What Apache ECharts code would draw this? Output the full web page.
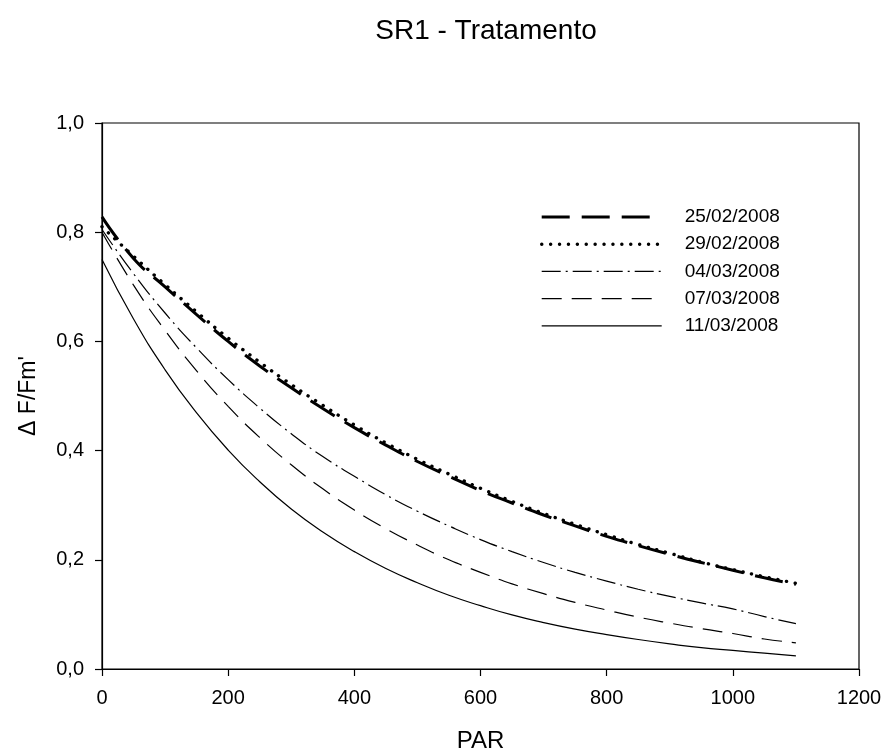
<!DOCTYPE html>
<html>
<head>
<meta charset="utf-8">
<script src="https://cdn.jsdelivr.net/npm/echarts@6/dist/echarts.min.js"></script>
<style>
  html, body { margin: 0; padding: 0; background: #fff; }
  #chart { width: 885px; height: 753px; }
</style>
</head>
<body>
<div id="chart"></div>
<script>
// PAR sample points (µmol m-2 s-1)
const par = [0, 50, 100, 150, 200, 250, 300, 350, 400, 450, 500, 550,
             600, 650, 700, 750, 800, 850, 900, 950, 1000, 1050, 1100];

// Effective quantum yield ΔF/Fm' per sampling date
const d250208 = [0.828, 0.752, 0.700, 0.649, 0.600, 0.555, 0.515, 0.477, 0.442, 0.410, 0.380, 0.353,
                 0.327, 0.304, 0.282, 0.262, 0.243, 0.226, 0.210, 0.195, 0.181, 0.167, 0.155];
const d290208 = [0.810, 0.756, 0.704, 0.654, 0.606, 0.562, 0.521, 0.483, 0.447, 0.414, 0.384, 0.357,
                 0.331, 0.307, 0.285, 0.265, 0.246, 0.228, 0.212, 0.196, 0.182, 0.169, 0.157];
const d040308 = [0.805, 0.724, 0.652, 0.588, 0.530, 0.478, 0.431, 0.389, 0.353, 0.319, 0.289, 0.262,
                 0.237, 0.215, 0.195, 0.177, 0.161, 0.146, 0.133, 0.121, 0.110, 0.096, 0.083];
const d070308 = [0.800, 0.703, 0.620, 0.546, 0.481, 0.424, 0.374, 0.330, 0.291, 0.257, 0.227, 0.200,
                 0.177, 0.156, 0.138, 0.122, 0.108, 0.095, 0.084, 0.074, 0.065, 0.055, 0.048];
const d110308 = [0.750, 0.641, 0.548, 0.469, 0.401, 0.343, 0.293, 0.251, 0.215, 0.184, 0.158, 0.135,
                 0.116, 0.099, 0.085, 0.073, 0.063, 0.054, 0.046, 0.039, 0.034, 0.029, 0.024];

const dates = ['25/02/2008', '29/02/2008', '04/03/2008', '07/03/2008', '11/03/2008'];
const xTicks = [0, 200, 400, 600, 800, 1000, 1200];
const yTicks = [0.0, 0.2, 0.4, 0.6, 0.8, 1.0];

const FONT = '"Liberation Sans", Arial, sans-serif';

// line style per date: long dash, dots, dash-dot, dash, solid
const styles = [
  { width: 3, type: [28, 12], cap: 'butt' },
  { width: 3.4, type: [0.1, 8.8], cap: 'round' },
  { width: 1.2, type: [19, 5, 2, 5], cap: 'butt' },
  { width: 1.2, type: [20, 10], cap: 'butt' },
  { width: 1.2, type: 'solid', cap: 'butt' }
];
const values = [d250208, d290208, d040308, d070308, d110308];

const lineStyleOf = i => ({
  color: '#000',
  width: styles[i].width,
  type: styles[i].type,
  cap: styles[i].cap
});

const chart = echarts.init(document.getElementById('chart'), null, { renderer: 'canvas' });

chart.setOption({
  animation: false,
  backgroundColor: '#fff',
  title: {
    text: 'SR1 - Tratamento',
    left: 481, top: 12, textAlign: 'center',
    textStyle: { fontFamily: FONT, fontSize: 28, fontWeight: 'normal', color: '#000' }
  },
  legend: {
    data: dates.map((name, i) => ({ name: name, lineStyle: lineStyleOf(i) })),
    orient: 'vertical',
    left: 535, top: 202,
    itemWidth: 120, itemHeight: 20, itemGap: 7.2,
    itemStyle: { opacity: 0 },
    textStyle: { fontFamily: FONT, fontSize: 19, lineHeight: 20, color: '#000', padding: [0, 0, 0, 18] },
    inactiveColor: '#000'
  },
  grid: {
    left: 102, right: 26, top: 123, bottom: 84,
    outerBoundsMode: 'none',
    containLabel: false,
    show: true, borderColor: '#000', borderWidth: 1.2
  },
  xAxis: {
    type: 'value', min: 0, max: 1200, interval: 200,
    name: 'PAR', nameLocation: 'middle', nameGap: 60,
    nameTextStyle: { fontFamily: FONT, fontSize: 24, color: '#000' },
    axisLine: { show: true, onZero: false, lineStyle: { color: '#000', width: 1.2 } },
    axisTick: { show: true, inside: false, length: 7, lineStyle: { color: '#000', width: 1.2 } },
    axisLabel: {
      fontFamily: FONT, fontSize: 20, color: '#000', margin: 19,
      formatter: v => xTicks.includes(v) ? String(v) : ''
    },
    splitLine: { show: false }
  },
  yAxis: {
    type: 'value', min: 0, max: 1, interval: 0.2,
    name: "Δ F/Fm'", nameLocation: 'middle', nameGap: 62, nameRotate: 90,
    nameTextStyle: { fontFamily: FONT, fontSize: 23, color: '#000' },
    axisLine: { show: true, lineStyle: { color: '#000', width: 1.2 } },
    axisTick: { show: true, inside: false, length: 7, lineStyle: { color: '#000', width: 1.2 } },
    axisLabel: {
      fontFamily: FONT, fontSize: 20, color: '#000', margin: 18,
      formatter: v => yTicks.some(t => Math.abs(t - v) < 1e-9) ? v.toFixed(1).replace('.', ',') : ''
    },
    splitLine: { show: false }
  },
  series: dates.map((name, i) => ({
    name: name,
    type: 'line',
    smooth: true,
    symbol: 'none',
    showSymbol: false,
    data: par.map((x, j) => [x, values[i][j]]),
    itemStyle: { color: '#000' },
    lineStyle: lineStyleOf(i)
  }))
});
</script>
</body>
</html>
